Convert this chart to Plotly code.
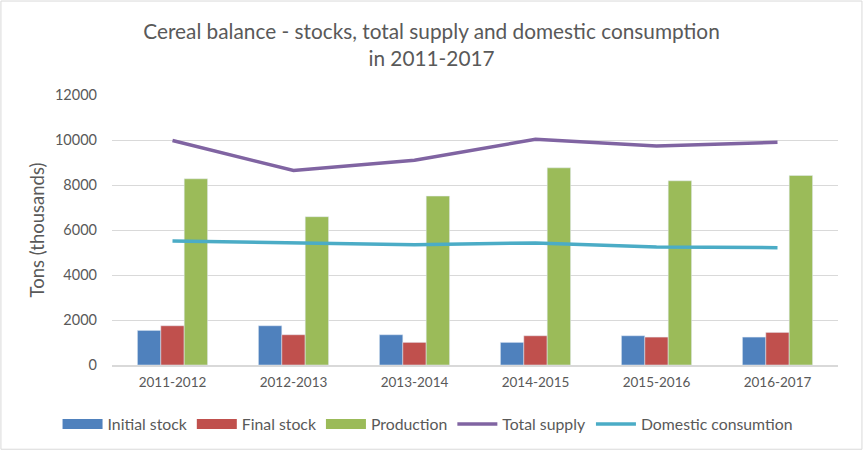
import plotly.graph_objects as go

categories = ["2011-2012", "2012-2013", "2013-2014", "2014-2015", "2015-2016", "2016-2017"]
initial_stock = [1537, 1744, 1345, 1005, 1300, 1241]
final_stock = [1744, 1345, 1005, 1300, 1241, 1448]
production = [8275, 6591, 7507, 8763, 8187, 8423]
total_supply = [9975, 8645, 9103, 10034, 9738, 9901]
domestic_consumption = [5512, 5438, 5350, 5423, 5246, 5216]
y_ticks = [0, 2000, 4000, 6000, 8000, 10000, 12000]
y_tick_labels = ["0", "2000", "4000", "6000", "8000", "10000", "12000"]

FONT = "Lato"
GRAY = "#595959"

bar_series = [
    ("Initial stock", initial_stock, "#4F81BD"),
    ("Final stock", final_stock, "#C0504D"),
    ("Production", production, "#9BBB59"),
]

fig = go.Figure()
for name, vals, color in bar_series:
    fig.add_trace(go.Bar(x=categories, y=vals, name=name, marker_color=color,
                         legendgroup=name, showlegend=False))
for name, vals, color in bar_series:
    # legend-only entry giving a wide rectangular swatch like the reference
    fig.add_trace(go.Scatter(x=[None], y=[None], name=name, mode="lines", legendgroup=name,
                             line=dict(color=color, width=10), hoverinfo="skip"))
fig.add_trace(go.Scatter(x=categories, y=total_supply, name="Total supply", mode="lines",
                         line=dict(color="#8064A2", width=3.5)))
fig.add_trace(go.Scatter(x=categories, y=domestic_consumption, name="Domestic consumtion", mode="lines",
                         line=dict(color="#4BACC6", width=3.5)))

fig.update_layout(
    width=863, height=452,
    margin=dict(l=112, r=25, t=95, b=86),
    paper_bgcolor="white", plot_bgcolor="white",
    font=dict(family=FONT, color=GRAY, size=13),
    title=dict(text="Cereal balance - stocks, total supply and domestic consumption<br>in 2011-2017",
               x=0.5, xanchor="center", y=0.914, yanchor="top",
               font=dict(family=FONT, size=20.8, color=GRAY)),
    barmode="group", bargap=0.42, bargroupgap=0,
    showlegend=True,
    legend=dict(orientation="h", x=-0.075, xanchor="left", y=-0.215, yanchor="middle",
                font=dict(family=FONT, size=15.8, color=GRAY), itemwidth=40,
                traceorder="normal"),
    xaxis=dict(showgrid=False, showline=True, linecolor="#D9D9D9", linewidth=2,
               tickfont=dict(size=13.5, color=GRAY), ticks="", ticklabelstandoff=4),
    yaxis=dict(range=[0, 12000], tickvals=y_ticks, ticktext=y_tick_labels, showgrid=True,
               gridcolor="#D9D9D9", gridwidth=1, zeroline=False, showline=False,
               tickfont=dict(size=14.5, color=GRAY), ticklabelstandoff=14,
               title=dict(text="Tons (thousands)", font=dict(size=18.5, color=GRAY), standoff=5)),
    shapes=[dict(type="rect", xref="paper", yref="paper",
                 x0=-0.153, x1=1.033, y0=-0.312, y1=1.348,
                 line=dict(color="#D9D9D9", width=1), fillcolor="rgba(0,0,0,0)", layer="below")],
)

fig.write_html("out.html", config={"displayModeBar": False},
               post_script="document.body.style.margin='0';document.body.style.overflow='hidden';")
